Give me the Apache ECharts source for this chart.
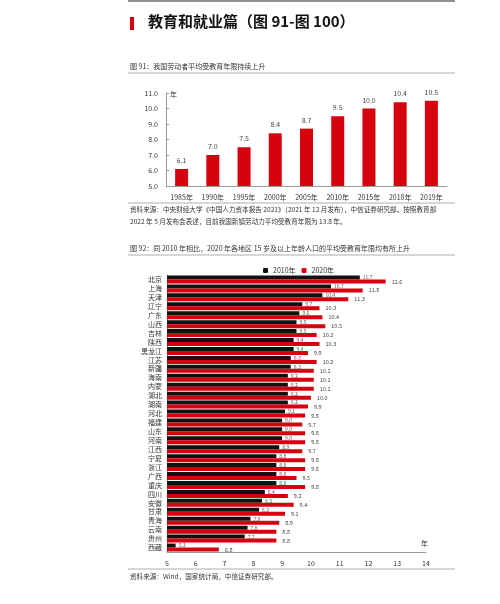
<!DOCTYPE html>
<html><head><meta charset="utf-8">
<script src="https://cdn.jsdelivr.net/npm/echarts@6/dist/echarts.min.js"></script>
<style>body{margin:0;background:#fff}#c{width:500px;height:604px}</style>
</head><body><div id="c"></div>
<script>
var years = ['1985年','1990年','1995年','2000年','2005年','2010年','2015年','2018年','2019年'];
var eduYears = [6.1, 7.0, 7.5, 8.4, 8.7, 9.5, 10.0, 10.4, 10.5];
var regions = ['北京','上海','天津','辽宁','广东','山西','吉林','陕西','黑龙江','江苏','新疆','海南','内蒙','湖北','湖南','河北','福建','山东','河南','江西','宁夏','浙江','广西','重庆','四川','安徽','甘肃','青海','云南','贵州','西藏'];
var y2010 = [11.7,10.7,10.4,9.7,9.6,9.5,9.5,9.4,9.4,9.3,9.3,9.2,9.2,9.2,9.2,9.1,9.0,9.0,9.0,8.9,8.8,8.8,8.8,8.8,8.4,8.3,8.2,7.9,7.8,7.7,5.3];
var y2020 = [12.6,11.8,11.3,10.3,10.4,10.5,10.2,10.3,9.9,10.2,10.1,10.1,10.1,10.0,9.9,9.8,9.7,9.8,9.8,9.7,9.8,9.8,9.5,9.8,9.2,9.4,9.1,8.9,8.8,8.8,6.8];

var red = '#d7000f';
var font = 'Noto Sans CJK SC';
var chart = echarts.init(document.getElementById('c'));
function txt(x, y, s, size, color, weight) {
  return {type:'text', left:x, top:y, style:{text:s, fontSize:size, fill:color||'#333', fontFamily:font, fontWeight:weight||'normal'}};
}
function hline(y, color, w) {
  return {type:'line', shape:{x1:128, y1:y, x2:455, y2:y}, style:{stroke:color, lineWidth:w}};
}
chart.setOption({
  textStyle:{fontFamily:font},
  animation:false,
  graphic:[
    hline(1, '#222', 1),
    {type:'rect', shape:{x:130, y:17, width:4, height:13}, style:{fill:red}},
    txt(148, 14, '教育和就业篇（图 91-图 100）', 15, '#111', 'bold'),
    txt(130, 63, '图 91：我国劳动者平均受教育年限持续上升', 7, '#333'),
    hline(73, '#999', 0.8),
    txt(170, 91, '年', 7, '#333'),
    hline(203, '#999', 0.8),
    txt(130, 206, '资料来源：中央财经大学《中国人力资本报告 2021》（2021 年 12 月发布），中信证券研究部。按照教育部', 6.6, '#333'),
    txt(130, 218, '2022 年 5 月发布会表述，目前我国新镇劳动力平均受教育年限为 13.8 年。', 6.6, '#333'),
    txt(130, 245, '图 92：同 2010 年相比，2020 年各地区 15 岁及以上年龄人口的平均受教育年限均有所上升', 7, '#333'),
    hline(255, '#999', 0.8),
    txt(421, 540, '年', 7, '#333'),
    hline(569, '#999', 0.8),
    txt(130, 573, '资料来源：Wind，国家统计局，中信证券研究部。', 6.6, '#333')
  ],
  legend:{top:262, left:258, itemWidth:5, itemHeight:5, itemGap:6, textStyle:{fontSize:7, color:'#333'}, data:['2010年','2020年']},
  grid:[
    {left:166, right:53, top:93, height:93},
    {left:167, right:74, top:275, height:277}
  ],
  xAxis:[
    {gridIndex:0, type:'category', data:years, axisTick:{show:false}, axisLine:{lineStyle:{color:'#999'}}, axisLabel:{fontSize:7, color:'#333', interval:0}},
    {gridIndex:1, type:'value', min:5, max:14, interval:1, splitLine:{show:false}, axisLine:{show:true, lineStyle:{color:'#999'}}, axisTick:{show:false}, axisLabel:{fontSize:7, color:'#333'}}
  ],
  yAxis:[
    {gridIndex:0, type:'value', min:5, max:11, interval:1, splitLine:{show:false}, axisLine:{show:true, lineStyle:{color:'#999'}}, axisTick:{show:true, inside:true, length:3}, axisLabel:{fontSize:7, color:'#333', formatter:function(v){return v.toFixed(1);}}},
    {gridIndex:1, type:'category', data:regions, inverse:true, axisTick:{show:false}, axisLine:{lineStyle:{color:'#999'}}, axisLabel:{fontSize:7, color:'#333', interval:0, margin:5}}
  ],
  series:[
    {type:'bar', xAxisIndex:0, yAxisIndex:0, data:eduYears, barWidth:13, itemStyle:{color:red},
     label:{show:true, position:'top', fontSize:7, color:'#444', formatter:function(p){return p.value.toFixed(1);}}},
    {name:'2010年', type:'bar', xAxisIndex:1, yAxisIndex:1, data:y2010, barWidth:4, barGap:'0%', itemStyle:{color:'#111'},
     label:{show:true, position:'right', fontSize:5, color:'#555', distance:3, formatter:function(p){return p.value.toFixed(1);}}},
    {name:'2020年', type:'bar', xAxisIndex:1, yAxisIndex:1, data:y2020, barWidth:4, itemStyle:{color:red},
     label:{show:true, position:'right', fontSize:5.5, color:'#444', distance:6, formatter:function(p){return p.value.toFixed(1);}}}
  ]
});
</script></body></html>
